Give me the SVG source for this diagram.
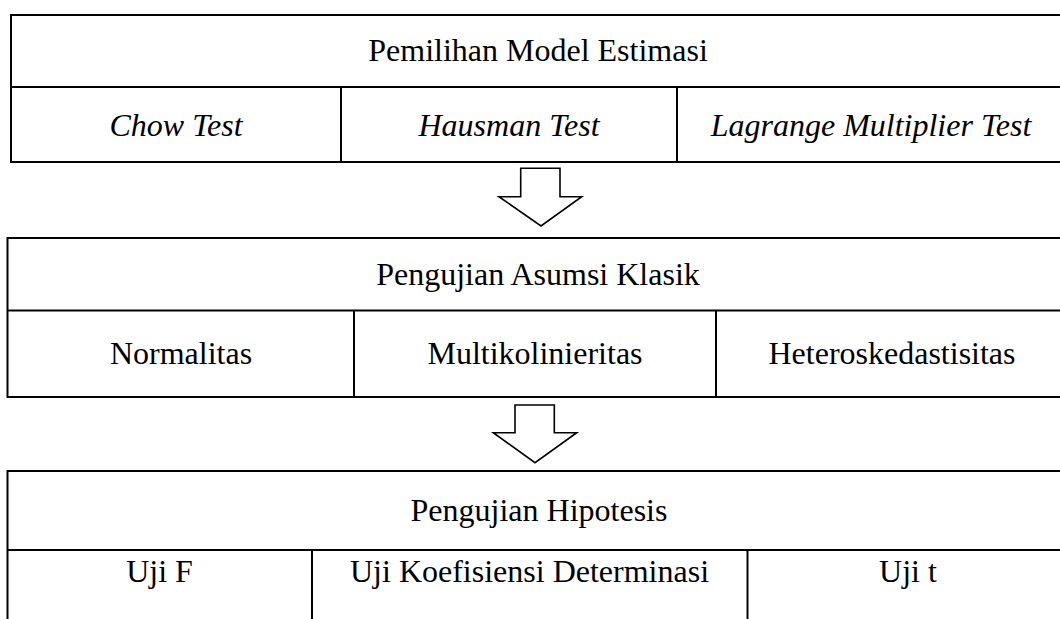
<svg xmlns="http://www.w3.org/2000/svg" width="1060" height="619" viewBox="0 0 1060 619">
<style>
.box{fill:#fff;stroke:#000;stroke-width:2}
.ln{stroke:#000;stroke-width:2;fill:none}
text{font-family:'Liberation Serif',serif;font-size:32px;fill:#000;text-anchor:middle}
.i{font-style:italic}
.arr{fill:#fff;stroke:#000;stroke-width:1.6;stroke-linejoin:miter}
</style>
<rect width="1060" height="619" fill="#fff"/>
<g id="node-pemilihan">
<rect class="box" x="11" y="15" width="1060" height="147"/>
<line class="ln" x1="11" y1="87" x2="1071" y2="87"/>
<line class="ln" x1="341" y1="87" x2="341" y2="162"/>
<line class="ln" x1="677" y1="87" x2="677" y2="162"/>
<text x="538" y="61">Pemilihan Model Estimasi</text>
<text class="i" x="176" y="136">Chow Test</text>
<text class="i" x="509" y="136">Hausman Test</text>
<text class="i" x="871" y="136">Lagrange Multiplier Test</text>
</g>
<g id="node-asumsi">
<rect class="box" x="7.5" y="238" width="1062" height="159"/>
<line class="ln" x1="7.5" y1="310.5" x2="1070" y2="310.5"/>
<line class="ln" x1="354" y1="310.5" x2="354" y2="397"/>
<line class="ln" x1="716" y1="310.5" x2="716" y2="397"/>
<text x="538" y="285">Pengujian Asumsi Klasik</text>
<text x="181" y="364">Normalitas</text>
<text x="535" y="364">Multikolinieritas</text>
<text x="892" y="364">Heteroskedastisitas</text>
</g>
<g id="node-hipotesis">
<rect class="box" x="7.5" y="471" width="1062" height="160"/>
<line class="ln" x1="7.5" y1="550" x2="1070" y2="550"/>
<line class="ln" x1="312" y1="550" x2="312" y2="630"/>
<line class="ln" x1="747.5" y1="550" x2="747.5" y2="630"/>
<text x="539" y="521">Pengujian Hipotesis</text>
<text x="159.5" y="582">Uji F</text>
<text x="529.5" y="582">Uji Koefisiensi Determinasi</text>
<text x="908" y="582">Uji t</text>
</g>
<g id="connectors">
<polygon class="arr" points="520.7,168.3 560,168.3 560,196.7 581.7,196.7 541,226 499,196.7 520.7,196.7"/>
<polygon class="arr" points="515,405 554.3,405 554.3,432.7 576.7,432.7 535,462.7 493.3,432.7 515,432.7"/>
</g>
</svg>
